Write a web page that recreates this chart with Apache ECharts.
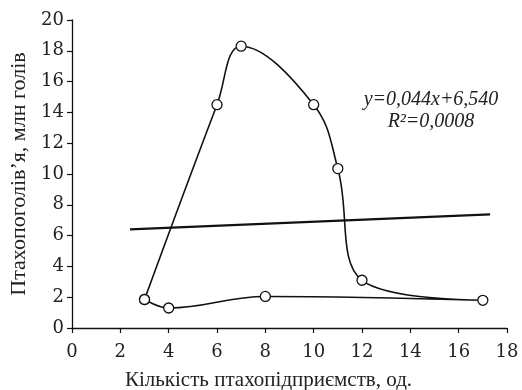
<!DOCTYPE html>
<html>
<head>
<meta charset="utf-8">
<script src="https://cdn.jsdelivr.net/npm/echarts@6/dist/echarts.min.js"></script>
<style>
  html, body { margin: 0; padding: 0; background: #fff; }
  #chart { width: 522px; height: 390px; }
</style>
</head>
<body>
<div id="chart"></div>
<script>
// Loop of observed points, in drawing order (closed back to the first one)
const loopX = [3, 6, 7, 10, 11, 12, 17, 8, 4, 3]
const loopY = [1.85, 14.5, 18.3, 14.5, 10.35, 3.1, 1.8, 2.05, 1.3, 1.85]

// Linear trend as drawn
const trendX = [2.4, 17.3]
const trendY = [6.4, 7.38]

const equationText = 'y=0,044x+6,540'
const r2Text = 'R²=0,0008'

const xName = 'Кількість птахопідприємств, од.'
const yName = 'Птахопоголів\u2019я, млн голів'

const SERIF = '"Liberation Serif", "DejaVu Serif", serif'
const WIDE_SERIF = '"DejaVu Serif", serif'

const chart = echarts.init(document.getElementById('chart'))

const axisCommon = {
  type: 'value',
  interval: 2,
  min: 0,
  axisLine: { show: true, lineStyle: { color: '#111', width: 1.3 } },
  axisTick: { show: true, length: 5, lineStyle: { color: '#111', width: 1.2 } },
  axisLabel: { color: '#222', fontFamily: WIDE_SERIF, fontSize: 18, margin: 8 },
  splitLine: { show: false },
  nameLocation: 'middle',
}

const option = {
  animation: false,
  grid: { left: 72, right: 15, top: 20, bottom: 62, outerBoundsMode: 'none', containLabel: false },
  xAxis: {
    ...axisCommon,
    max: 18,
    name: xName,
    nameGap: 42,
    axisLabel: { ...axisCommon.axisLabel, margin: 15 },
    nameTextStyle: { color: '#222', fontFamily: SERIF, fontSize: 21, padding: [0, 42, 0, 0] },
  },
  yAxis: {
    ...axisCommon,
    max: 20,
    name: yName,
    nameGap: 40,
    nameTextStyle: { color: '#222', fontFamily: SERIF, fontSize: 22 },
  },
  series: [
    {
      type: 'line',
      data: trendX.map((x, i) => [x, trendY[i]]),
      symbol: 'none',
      lineStyle: { color: '#111', width: 2.2 },
      z: 2,
    },
    {
      type: 'line',
      data: loopX.map((x, i) => [x, loopY[i]]),
      smooth: 0.4,
      symbol: 'circle',
      symbolSize: 10,
      itemStyle: { color: '#fff', borderColor: '#111', borderWidth: 1.3 },
      lineStyle: { color: '#111', width: 1.6 },
      z: 3,
    },
  ],
  graphic: [
    {
      type: 'text',
      x: 431,
      y: 89,
      style: {
        text: equationText + '\n' + r2Text,
        align: 'center',
        fill: '#222',
        font: 'italic 20px ' + SERIF,
        lineHeight: 22,
      },
    },
  ],
}

chart.setOption(option)
</script>
</body>
</html>
